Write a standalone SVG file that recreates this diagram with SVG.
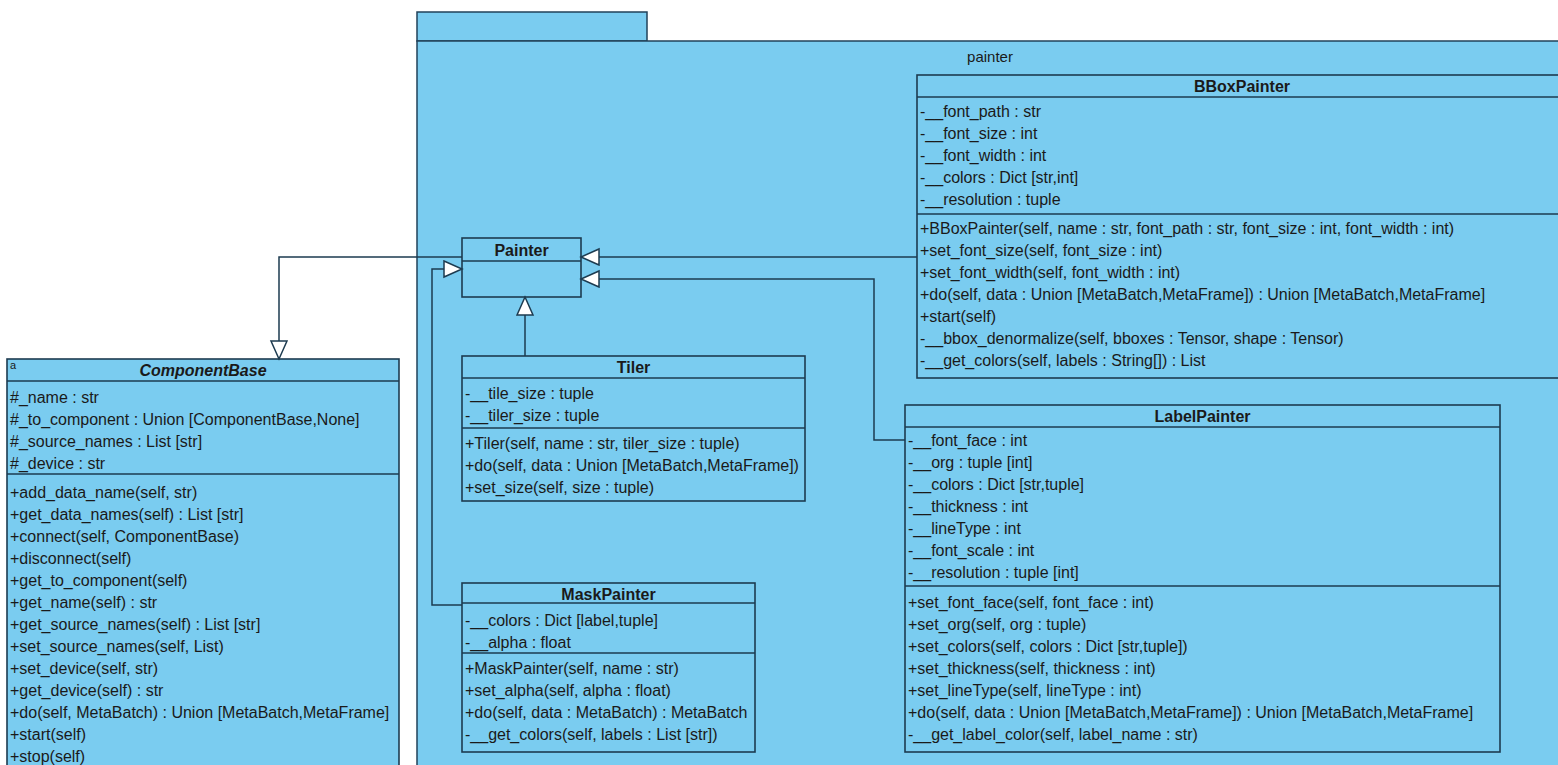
<svg xmlns="http://www.w3.org/2000/svg" width="1558" height="765" viewBox="0 0 1558 765">
<style>
.bg{fill:#ffffff}
.pkg{fill:#7ACCF0;stroke:#22425a;stroke-width:1.5}
.box{fill:#7ACCF0;stroke:#1d3b50;stroke-width:1.6}
.sep{stroke:#1d3b50;stroke-width:1.6;fill:none}
.t{font-family:"Liberation Sans",Arial,sans-serif;font-size:16px;fill:#1a1a1a}
.ti{font-family:"Liberation Sans",Arial,sans-serif;font-size:16px;font-weight:bold;fill:#1a1a1a;text-anchor:middle}
.it{font-style:italic}
.pl{font-family:"Liberation Sans",Arial,sans-serif;font-size:15px;fill:#1a1a1a;text-anchor:middle}
.conn{fill:none;stroke:#1d3b50;stroke-width:1.5}
</style>
<defs>
<marker id="gen" markerUnits="userSpaceOnUse" markerWidth="22" markerHeight="20" refX="19" refY="9" orient="auto">
<path d="M1,1 L19,9 L1,17 Z" fill="#ffffff" stroke="#1d3b50" stroke-width="1.5"/>
</marker>
</defs>
<rect class="bg" x="0" y="0" width="1558" height="765"/>

<g id="package-painter">
<rect class="pkg" x="417" y="12" width="230" height="29"/>
<rect class="pkg" x="417" y="41" width="1160" height="740"/>
<text class="pl" x="990" y="62">painter</text>
</g>

<g id="ComponentBase">
<rect class="box" x="7" y="359" width="392" height="420"/>
<line class="sep" x1="7" y1="381" x2="399" y2="381"/>
<line class="sep" x1="7" y1="474" x2="399" y2="474"/>
<text class="t" x="10" y="369" style="font-size:11px">a</text>
<text class="ti it" x="203" y="376">ComponentBase</text>
<text class="t" x="10" y="402.5">#_name : str</text>
<text class="t" x="10" y="424.5">#_to_component : Union [ComponentBase,None]</text>
<text class="t" x="10" y="446.5">#_source_names : List [str]</text>
<text class="t" x="10" y="468.5">#_device : str</text>
<text class="t" x="10" y="497.5">+add_data_name(self, str)</text>
<text class="t" x="10" y="519.5">+get_data_names(self) : List [str]</text>
<text class="t" x="10" y="541.5">+connect(self, ComponentBase)</text>
<text class="t" x="10" y="563.5">+disconnect(self)</text>
<text class="t" x="10" y="585.5">+get_to_component(self)</text>
<text class="t" x="10" y="607.5">+get_name(self) : str</text>
<text class="t" x="10" y="629.5">+get_source_names(self) : List [str]</text>
<text class="t" x="10" y="651.5">+set_source_names(self, List)</text>
<text class="t" x="10" y="673.5">+set_device(self, str)</text>
<text class="t" x="10" y="695.5">+get_device(self) : str</text>
<text class="t" x="10" y="717.5">+do(self, MetaBatch) : Union [MetaBatch,MetaFrame]</text>
<text class="t" x="10" y="739.5">+start(self)</text>
<text class="t" x="10" y="761.5">+stop(self)</text>
</g>

<g id="Painter">
<rect class="box" x="462" y="238" width="119" height="59"/>
<line class="sep" x1="462" y1="261" x2="581" y2="261"/>
<text class="ti" x="521.5" y="255.5">Painter</text>
</g>

<g id="Tiler">
<rect class="box" x="462" y="356" width="343" height="145"/>
<line class="sep" x1="462" y1="378" x2="805" y2="378"/>
<line class="sep" x1="462" y1="428" x2="805" y2="428"/>
<text class="ti" x="633.5" y="372.5">Tiler</text>
<text class="t" x="465" y="398.5">-__tile_size : tuple</text>
<text class="t" x="465" y="420.5">-__tiler_size : tuple</text>
<text class="t" x="465" y="448.5">+Tiler(self, name : str, tiler_size : tuple)</text>
<text class="t" x="465" y="470.5">+do(self, data : Union [MetaBatch,MetaFrame])</text>
<text class="t" x="465" y="492.5">+set_size(self, size : tuple)</text>
</g>

<g id="MaskPainter">
<rect class="box" x="462" y="583" width="293" height="169"/>
<line class="sep" x1="462" y1="603" x2="755" y2="603"/>
<line class="sep" x1="462" y1="653" x2="755" y2="653"/>
<text class="ti" x="608.5" y="599.5">MaskPainter</text>
<text class="t" x="465" y="625.5">-__colors : Dict [label,tuple]</text>
<text class="t" x="465" y="647.5">-__alpha : float</text>
<text class="t" x="465" y="673.5">+MaskPainter(self, name : str)</text>
<text class="t" x="465" y="695.5">+set_alpha(self, alpha : float)</text>
<text class="t" x="465" y="717.5">+do(self, data : MetaBatch) : MetaBatch</text>
<text class="t" x="465" y="739.5">-__get_colors(self, labels : List [str])</text>
</g>

<g id="BBoxPainter">
<rect class="box" x="917" y="75" width="660" height="303"/>
<line class="sep" x1="917" y1="97" x2="1577" y2="97"/>
<line class="sep" x1="917" y1="214" x2="1577" y2="214"/>
<text class="ti" x="1242" y="91.5">BBoxPainter</text>
<text class="t" x="920" y="116.5">-__font_path : str</text>
<text class="t" x="920" y="138.5">-__font_size : int</text>
<text class="t" x="920" y="160.5">-__font_width : int</text>
<text class="t" x="920" y="182.5">-__colors : Dict [str,int]</text>
<text class="t" x="920" y="204.5">-__resolution : tuple</text>
<text class="t" x="920" y="233.5">+BBoxPainter(self, name : str, font_path : str, font_size : int, font_width : int)</text>
<text class="t" x="920" y="255.5">+set_font_size(self, font_size : int)</text>
<text class="t" x="920" y="277.5">+set_font_width(self, font_width : int)</text>
<text class="t" x="920" y="299.5">+do(self, data : Union [MetaBatch,MetaFrame]) : Union [MetaBatch,MetaFrame]</text>
<text class="t" x="920" y="321.5">+start(self)</text>
<text class="t" x="920" y="343.5">-__bbox_denormalize(self, bboxes : Tensor, shape : Tensor)</text>
<text class="t" x="920" y="365.5">-__get_colors(self, labels : String[]) : List</text>
</g>

<g id="LabelPainter">
<rect class="box" x="905" y="405" width="595" height="347"/>
<line class="sep" x1="905" y1="427" x2="1500" y2="427"/>
<line class="sep" x1="905" y1="586" x2="1500" y2="586"/>
<text class="ti" x="1202.5" y="421.5">LabelPainter</text>
<text class="t" x="908" y="445.5">-__font_face : int</text>
<text class="t" x="908" y="467.5">-__org : tuple [int]</text>
<text class="t" x="908" y="489.5">-__colors : Dict [str,tuple]</text>
<text class="t" x="908" y="511.5">-__thickness : int</text>
<text class="t" x="908" y="533.5">-__lineType : int</text>
<text class="t" x="908" y="555.5">-__font_scale : int</text>
<text class="t" x="908" y="577.5">-__resolution : tuple [int]</text>
<text class="t" x="908" y="607.5">+set_font_face(self, font_face : int)</text>
<text class="t" x="908" y="629.5">+set_org(self, org : tuple)</text>
<text class="t" x="908" y="651.5">+set_colors(self, colors : Dict [str,tuple])</text>
<text class="t" x="908" y="673.5">+set_thickness(self, thickness : int)</text>
<text class="t" x="908" y="695.5">+set_lineType(self, lineType : int)</text>
<text class="t" x="908" y="717.5">+do(self, data : Union [MetaBatch,MetaFrame]) : Union [MetaBatch,MetaFrame]</text>
<text class="t" x="908" y="739.5">-__get_label_color(self, label_name : str)</text>
</g>

<g id="connectors">
<path class="conn" d="M462,257 H279 V359" marker-end="url(#gen)"/>
<path class="conn" d="M462,605 H432 V269 H462" marker-end="url(#gen)"/>
<path class="conn" d="M525,356 V297" marker-end="url(#gen)"/>
<path class="conn" d="M917,257 H581" marker-end="url(#gen)"/>
<path class="conn" d="M905,440 H874 V279 H581" marker-end="url(#gen)"/>
</g>
</svg>
